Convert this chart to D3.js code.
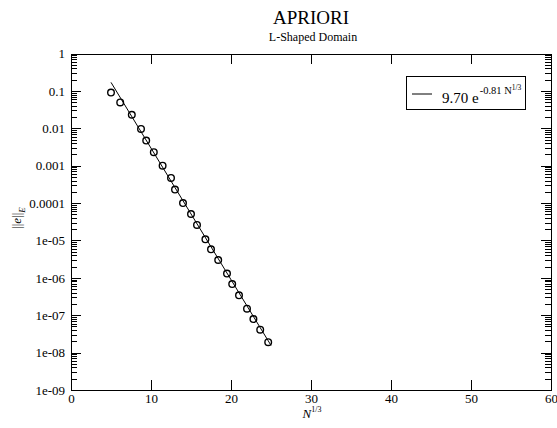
<!DOCTYPE html>
<html>
<head>
<meta charset="utf-8">
<script src="https://cdn.jsdelivr.net/npm/d3@7"></script>
<style>
  body { margin: 0; background: #fff; }
  svg { display: block; }
  svg text { font-family: 'Liberation Serif', 'Times New Roman', Times, 'DejaVu Serif', serif; }
  .axis path, .axis line { stroke: #000; stroke-width: 1; shape-rendering: crispEdges; }
  .axis text { font-size: 13px; fill: #000; }
</style>
</head>
<body>
<svg id="chart" width="557" height="428"></svg>
<script>
// data: N^(1/3) vs energy-norm error
const nCubeRoot = [5.0, 6.15, 7.6, 8.75, 9.4, 10.35, 11.45, 12.5, 13.0, 14.0, 15.0,
                   15.75, 16.8, 17.5, 18.4, 19.5, 20.15, 21.0, 22.0, 22.8, 23.65, 24.65];
const errorE = [0.09, 0.049, 0.023, 0.0096, 0.0047, 0.0023, 0.001, 0.00047, 0.00023, 0.0001, 5.1e-5,
                2.6e-5, 1.07e-5, 5.8e-6, 3.0e-6, 1.3e-6, 6.8e-7, 3.4e-7, 1.5e-7, 7.9e-8, 4.1e-8, 1.9e-8];

// fitted line  a * exp(-b * N^(1/3))
const fitA = 9.70, fitB = 0.81;
const fitRange = [5, 25];

const xTicks = [0, 10, 20, 30, 40, 50, 60];
const yTicks = [1, 0.1, 0.01, 0.001, 0.0001, 1e-5, 1e-6, 1e-7, 1e-8, 1e-9];
const yTickLabels = ["1", "0.1", "0.01", "0.001", "0.0001", "1e-05", "1e-06", "1e-07", "1e-08", "1e-09"];

const plotLeft = 71, plotRight = 551, plotTop = 53.5, plotBottom = 390;

const svg = d3.select("#chart");

let x = d3.scaleLinear().domain([0, 60]).range([plotLeft, plotRight]);
let y = d3.scaleLog().domain([1e-9, 1]).range([plotBottom, plotTop]);

// minor ticks 2..9 in every decade
let minor = [];
for (let e = -9; e < 0; e++) {
    for (let m = 2; m <= 9; m++) minor.push(m * Math.pow(10, e));
}

/* axes, ticks pointing inward like xmgrace */
svg.append("g").attr("class", "axis")
    .attr("transform", "translate(0," + plotBottom + ")")
    .call(d3.axisBottom(x).tickValues(xTicks).tickSizeInner(-10).tickSizeOuter(0).tickPadding(4)
        .tickFormat(d3.format("d")));

svg.append("g").attr("class", "axis")
    .attr("transform", "translate(0," + plotTop + ")")
    .call(d3.axisTop(x).tickValues(xTicks).tickSizeInner(-10).tickSizeOuter(0).tickFormat(""));

svg.append("g").attr("class", "axis")
    .attr("transform", "translate(" + plotLeft + ",0)")
    .call(d3.axisLeft(y).tickValues(yTicks).tickSizeInner(-10).tickSizeOuter(0).tickPadding(6)
        .tickFormat((d, i) => yTickLabels[i]));

svg.append("g").attr("class", "axis")
    .attr("transform", "translate(" + plotLeft + ",0)")
    .call(d3.axisLeft(y).tickValues(minor).tickSizeInner(-6).tickSizeOuter(0).tickFormat(""))
    .call(g => g.select(".domain").remove());

svg.append("g").attr("class", "axis")
    .attr("transform", "translate(" + plotRight + ",0)")
    .call(d3.axisRight(y).tickValues(yTicks).tickSizeInner(-10).tickSizeOuter(0).tickFormat(""));

svg.append("g").attr("class", "axis")
    .attr("transform", "translate(" + plotRight + ",0)")
    .call(d3.axisRight(y).tickValues(minor).tickSizeInner(-6).tickSizeOuter(0).tickFormat(""))
    .call(g => g.select(".domain").remove());

/* fit line (straight on a log axis, so its two end points do) */
let fitLine = d3.line().x(d => x(d)).y(d => y(fitA * Math.exp(-fitB * d)));
svg.append("path")
    .datum(fitRange)
    .attr("d", fitLine)
    .attr("fill", "none")
    .attr("stroke", "#000")
    .attr("stroke-width", 1);

/* data markers */
svg.append("g").selectAll("circle")
    .data(nCubeRoot)
    .enter()
    .append("circle")
    .attr("cx", d => x(d))
    .attr("cy", (d, i) => y(errorE[i]))
    .attr("r", 3.3)
    .attr("fill", "none")
    .attr("stroke", "#000")
    .attr("stroke-width", 1.4);

/* titles */
svg.append("text")
    .attr("x", 311).attr("y", 24)
    .attr("text-anchor", "middle")
    .attr("font-size", 19)
    .text("APRIORI");
svg.append("text")
    .attr("x", 313).attr("y", 41)
    .attr("text-anchor", "middle")
    .attr("font-size", 12)
    .text("L-Shaped Domain");

/* axis titles */
let xLabel = svg.append("text")
    .attr("x", 312).attr("y", 418)
    .attr("text-anchor", "middle")
    .attr("font-size", 13);
xLabel.append("tspan").attr("font-style", "italic").text("N");
xLabel.append("tspan").attr("font-size", 8).attr("dy", -6).text("1/3");

let yLabel = svg.append("text")
    .attr("transform", "translate(21,218) rotate(-90)")
    .attr("text-anchor", "middle")
    .attr("font-size", 13);
yLabel.append("tspan").text("||");
yLabel.append("tspan").attr("font-style", "italic").text("e");
yLabel.append("tspan").text("||");
yLabel.append("tspan").attr("font-style", "italic").attr("font-size", 9).attr("dy", 4).text("E");

/* legend */
let legend = svg.append("g");
legend.append("rect")
    .attr("x", 406.5).attr("y", 76.5)
    .attr("width", 119).attr("height", 33)
    .attr("fill", "#fff")
    .attr("stroke", "#000");
legend.append("line")
    .attr("x1", 412).attr("x2", 432)
    .attr("y1", 94).attr("y2", 94)
    .attr("stroke", "#000");
let legText = legend.append("text")
    .attr("x", 442).attr("y", 103)
    .attr("font-size", 15);
legText.append("tspan").text(fitA.toFixed(2) + " e");
legText.append("tspan").attr("font-size", 10.5).attr("dy", -9).attr("dx", 1).text("-" + fitB.toFixed(2) + " N");
legText.append("tspan").attr("font-size", 7.5).attr("dy", -4).text("1/3");
</script>
</body>
</html>
